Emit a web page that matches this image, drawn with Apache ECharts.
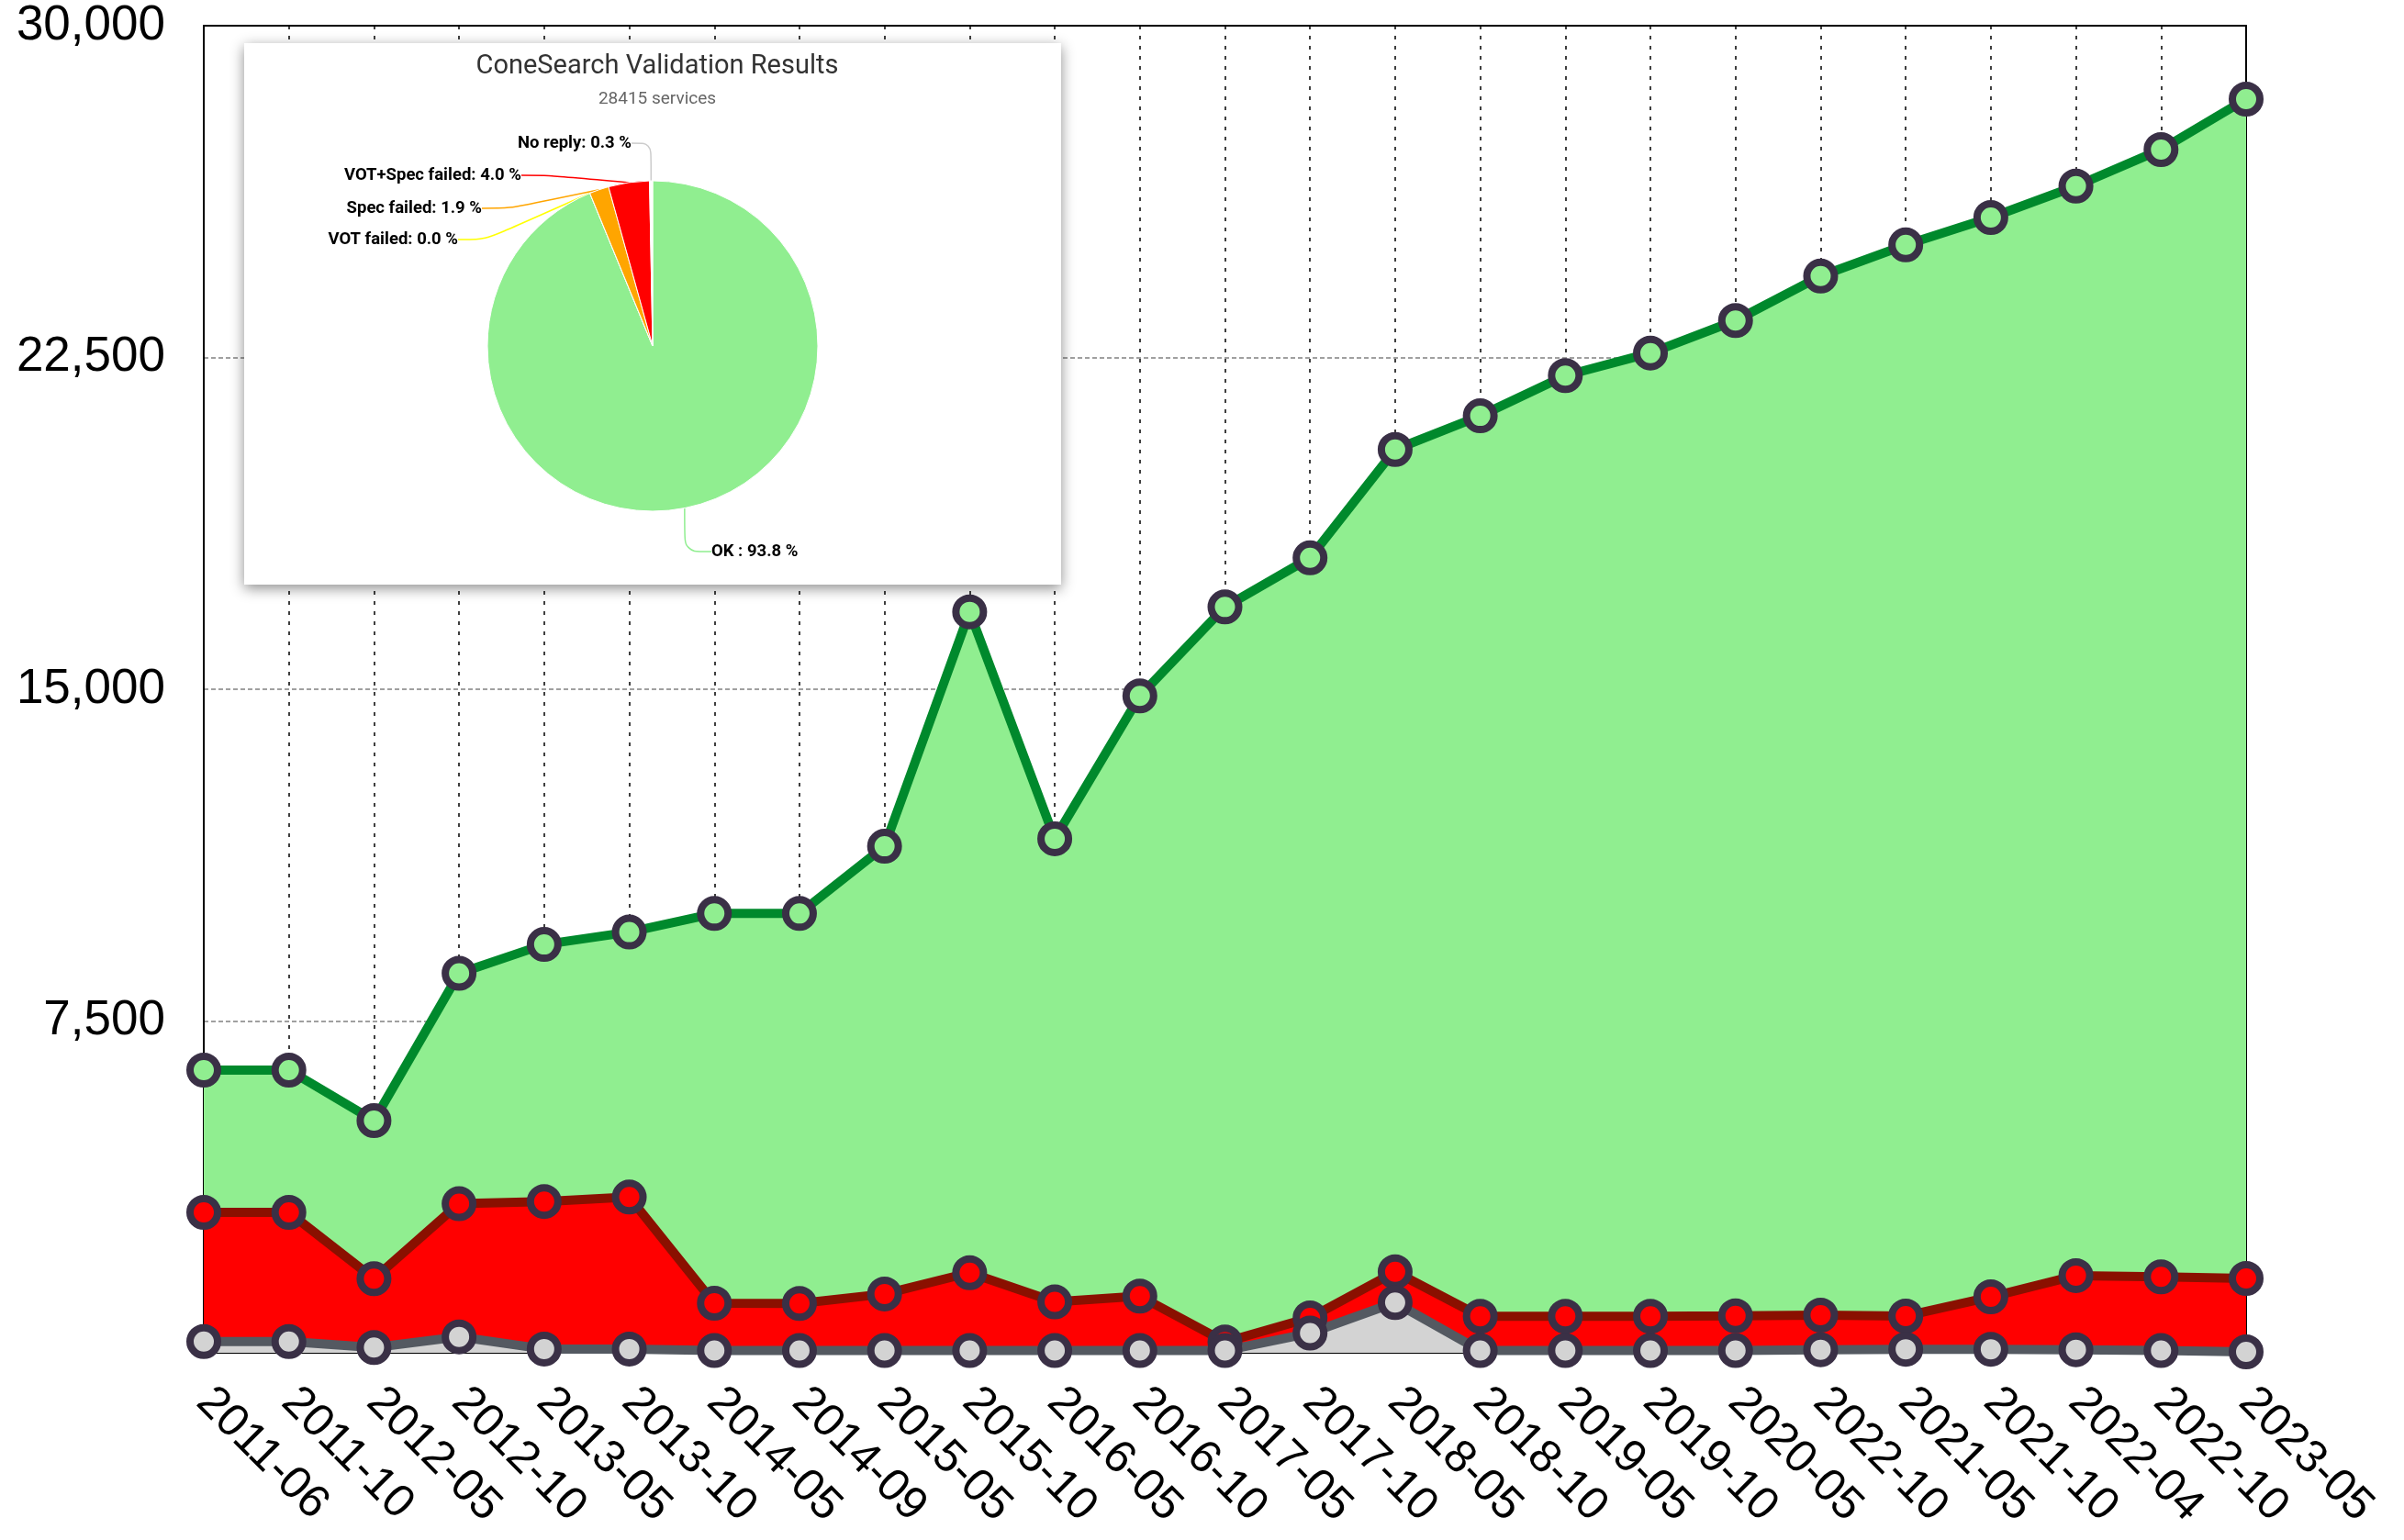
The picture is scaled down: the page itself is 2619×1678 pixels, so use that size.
<!DOCTYPE html>
<html>
<head>
<meta charset="utf-8">
<script src="https://cdn.jsdelivr.net/npm/echarts@6/dist/echarts.min.js"></script>
<style>
html,body{margin:0;padding:0;background:#fff;}
#main{width:2619px;height:1678px;}
</style>
</head>
<body>
<div id="main"></div>
<script>
// ---- data ----
const categories = ['2011-06','2011-10','2012-05','2012-10','2013-05','2013-10','2014-05','2014-09','2015-05','2015-10','2016-05','2016-10','2017-05','2017-10','2018-05','2018-10','2019-05','2019-10','2020-05','2022-10','2021-05','2021-10','2022-04','2022-10','2023-05'];
const totalServices = [6390,6390,5250,8580,9230,9510,9930,9930,11450,16750,11620,14850,16860,17970,20420,21180,22090,22600,23335,24340,25045,25665,26375,27200,28340];
const failedServices = [3175,3175,1675,3370,3420,3520,1120,1115,1330,1810,1150,1280,245,790,1830,825,825,825,835,850,830,1265,1745,1715,1680];
const noReplyServices = [255,255,120,360,85,85,50,50,50,50,50,50,50,445,1135,50,50,50,50,70,80,80,70,50,20];
const yTicks = [0,7500,15000,22500,30000];

const pieTitle = 'ConeSearch Validation Results';
const pieSubtitle = '28415 services';
const pieNames = ['OK','VOT failed','Spec failed','VOT+Spec failed','No reply'];
const piePercents = [93.8,0.0,1.9,4.0,0.3];

// ---- styles ----
const pieColors = ['#90ee90','#ffff00','#ffa500','#ff0000','#ffffff'];
const pieLineColors = ['#90ee90','#ffff00','#ffa500','#ff0000','#cccccc'];
const pieLabelPos = [
  {x:775,y:601,align:'left'},
  {x:499,y:261,align:'right'},
  {x:525,y:227,align:'right'},
  {x:568,y:191,align:'right'},
  {x:688,y:156,align:'right'}
];
const markerBorder = '#3a3046';

function lineSeries(name, data, lineColor, fillColor){
  return {
    name, type:'line', data,
    symbol:'circle', symbolSize:30, showSymbol:true, showAllSymbol:true,
    lineStyle:{color:lineColor,width:10},
    itemStyle:{color:fillColor,borderColor:markerBorder,borderWidth:8},
    areaStyle:{color:fillColor,opacity:1},
    emphasis:{disabled:true},
    z:2
  };
}

const chart = echarts.init(document.getElementById('main'));
chart.setOption({
  animation:false,
  backgroundColor:'#fff',
  grid:{left:222,right:172,top:28,bottom:204,show:false,containLabel:false},
  xAxis:[{
    type:'category', data:categories, boundaryGap:false, z:1,
    axisLine:{show:true,lineStyle:{color:'#000',width:2}},
    axisTick:{show:false},
    splitLine:{show:true,lineStyle:{color:'#000',type:[4,7],width:1.5}},
    axisLabel:{interval:0,rotate:-45,margin:46,fontSize:50,fontFamily:'Liberation Sans',color:'#000'}
  },{
    type:'category', data:categories, boundaryGap:false, position:'top', z:1.5,
    axisLine:{show:true,onZero:false,lineStyle:{color:'#000',width:2}},
    axisTick:{show:false}, axisLabel:{show:false}, splitLine:{show:false}
  }],
  yAxis:[{
    type:'value', min:yTicks[0], max:yTicks[yTicks.length-1], interval:yTicks[1]-yTicks[0], z:0,
    axisLine:{show:true,lineStyle:{color:'#000',width:2}},
    axisTick:{show:false},
    splitLine:{show:true,lineStyle:{color:'#a0a0a0',type:[5,3],width:2}},
    axisLabel:{showMinLabel:false,margin:42,fontSize:53,fontFamily:'Liberation Sans',color:'#000'}
  },{
    type:'value', min:yTicks[0], max:yTicks[yTicks.length-1], interval:yTicks[1]-yTicks[0], position:'right', z:1.5,
    axisLine:{show:true,onZero:false,lineStyle:{color:'#000',width:2}},
    axisTick:{show:false}, axisLabel:{show:false}, splitLine:{show:false}
  }],
  title:[
    {text:pieTitle,left:711,top:53,textAlign:'center',z:120,
     textStyle:{fontFamily:'Roboto',fontSize:29,fontWeight:'normal',color:'#333'}},
    {text:pieSubtitle,left:711,top:94,textAlign:'center',z:120,
     textStyle:{fontFamily:'Roboto',fontSize:19,fontWeight:'normal',color:'#666'}}
  ],
  graphic:[{
    type:'rect', z:100, silent:true,
    shape:{x:266,y:47,width:890,height:590},
    style:{fill:'#fff',shadowBlur:14,shadowColor:'rgba(0,0,0,0.45)',shadowOffsetY:4}
  }],
  series:[
    lineSeries('Total', totalServices, '#00892c', '#90ee90'),
    lineSeries('Failed', failedServices, '#8a1000', '#ff0000'),
    lineSeries('No reply', noReplyServices, '#545961', '#d3d3d3'),
    {
      type:'pie', z:110, center:[711,377], radius:180, startAngle:90, clockwise:true,
      avoidLabelOverlap:false, animation:false,
      itemStyle:{borderColor:'#fff',borderWidth:1},
      emphasis:{disabled:true},
      label:{show:true,fontFamily:'Roboto',fontSize:18.5,fontWeight:'bold',color:'#000',
        formatter:p=> (p.name==='OK' ? 'OK : ' : p.name + ': ') + p.value.toFixed(1) + ' %'},
      labelLine:{show:true,length:20,length2:30,smooth:0.3,lineStyle:{width:1.5}},
      labelLayout:function(params){
        const pos = pieLabelPos[params.dataIndex];
        return {x:pos.x,y:pos.y,align:pos.align,verticalAlign:'middle'};
      },
      data:pieNames.map((n,i)=>({name:n,value:piePercents[i],
        itemStyle:{color:pieColors[i]},
        labelLine:{lineStyle:{color:pieLineColors[i]}}}))
    }
  ]
});
</script>
</body>
</html>
